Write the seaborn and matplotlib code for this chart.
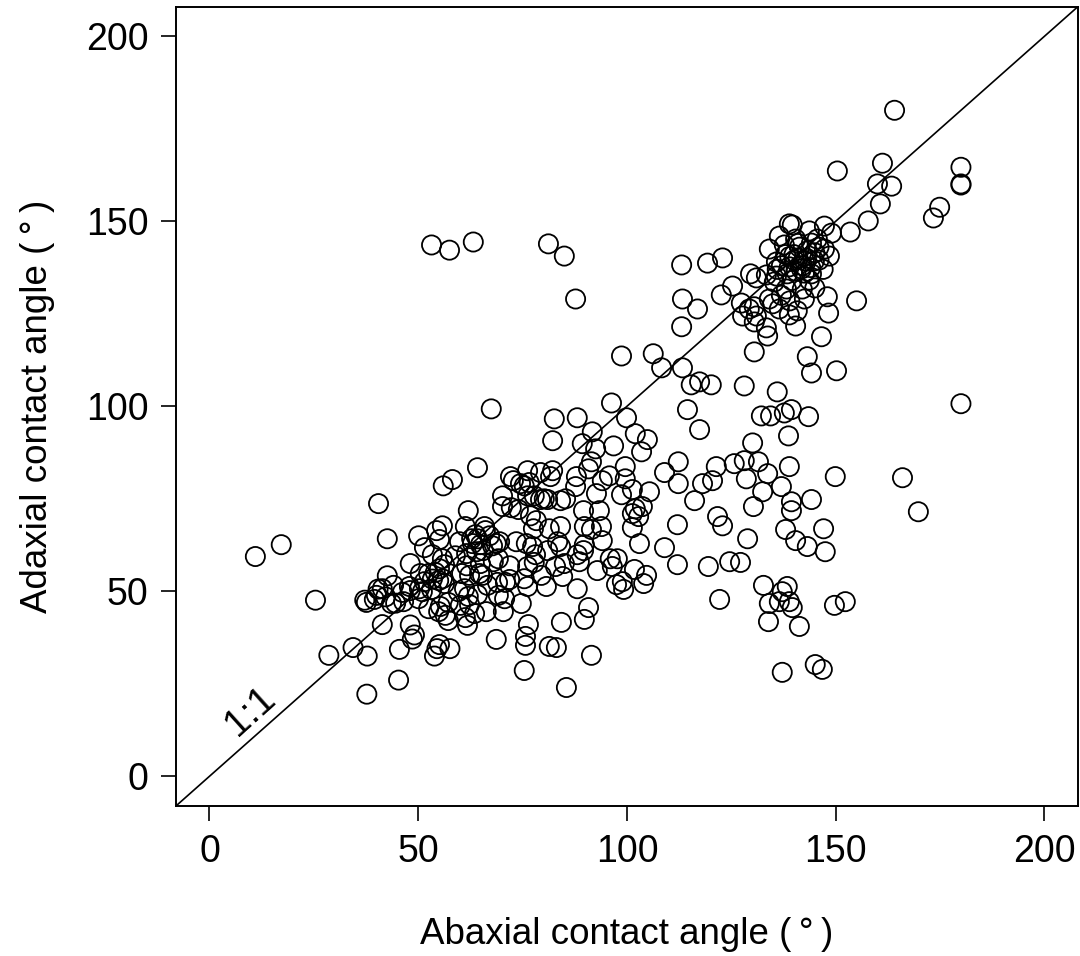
import numpy as np
import pandas as pd
import seaborn as sns
import matplotlib.pyplot as plt

# contact angles (degrees)
abaxial_left = [11.0, 17.2, 25.4, 28.6, 34.4, 37.8, 37.7, 41.4, 45.3, 45.5, 48.1, 49.1, 48.6, 53.9, 54.5, 57.6, 55.1,
                37.2, 37.6, 40.0, 40.4, 42.2, 42.6, 44.1, 44.6, 43.6, 46.2, 46.5, 47.9, 48.1, 50.1, 51.0, 50.3, 51.5,
                50.5, 48.1, 53.4, 53.2, 54.1, 55.1, 54.9, 55.8, 56.3, 56.3, 55.8, 52.5, 52.5, 54.9, 55.3, 56.5, 57.2,
                57.2, 60.1, 61.8, 63.5, 61.3, 62.3, 59.6, 61.1, 62.0, 64.2, 60.4, 62.3, 64.7, 65.4, 64.9, 66.6, 66.3,
                68.7, 70.4, 69.2, 70.9, 69.0, 71.9, 69.2, 68.0, 68.7, 67.8, 69.5,
                40.5, 42.6, 50.1, 51.5, 53.4, 55.1, 55.8, 54.4, 58.9, 59.9, 61.6, 61.6, 64.0, 64.2, 62.8, 63.7, 63.0,
                64.9, 65.6, 65.9, 66.1, 67.1, 62.0, 61.3, 56.0, 58.2, 64.2, 67.5, 41.4, 39.5]
adaxial_left = [59.4, 62.6, 47.6, 32.7, 34.8, 32.5, 22.2, 41.0, 26.0, 34.3, 40.9, 38.2, 37.1, 32.5, 34.5, 34.5, 35.6,
                47.6, 47.0, 48.9, 50.6, 48.5, 54.2, 51.6, 46.8, 46.7, 49.7, 47.2, 51.3, 50.2, 48.0, 49.9, 50.7, 52.6,
                54.8, 57.5, 53.3, 50.5, 55.1, 56.1, 52.9, 53.4, 52.1, 57.2, 58.8, 54.8, 45.3, 44.5, 45.9, 43.5, 42.1,
                47.0, 46.2, 40.8, 44.0, 42.9, 46.4, 49.9, 50.7, 48.6, 49.1, 54.8, 54.3, 54.8, 54.3, 57.5, 51.6, 44.5,
                37.0, 44.5, 48.9, 52.4, 52.4, 56.9, 58.8, 58.0, 62.9, 62.3, 63.4,
                73.7, 64.2, 65.0, 61.8, 59.9, 64.0, 67.7, 66.4, 59.6, 63.4, 60.2, 56.9, 60.7, 64.2, 64.2, 65.3, 62.9,
                62.6, 61.0, 67.5, 66.4, 65.0, 71.8, 67.5, 78.5, 80.2, 83.4, 99.3, 50.7, 47.8]

abaxial_mid = [74.7, 76.2, 75.4, 76.4, 75.7, 75.7, 75.4, 80.7, 79.5, 84.6, 84.3, 81.4, 83.1, 85.5, 89.8, 90.8, 91.5,
               92.9, 96.5, 97.5, 99.2, 98.9, 101.8, 104.0, 104.7, 77.8, 85.0, 88.6, 71.9, 70.7, 88.1, 76.2, 82.9,
               73.5, 75.9, 77.4, 78.1, 81.0, 84.1, 89.8, 89.6, 88.1, 97.7, 96.0,
               84.1, 83.4, 78.3, 77.6, 89.8, 91.5, 94.1, 93.9, 89.6, 93.4, 74.0, 72.3, 70.2, 70.2, 76.9, 81.4,
               76.2, 77.8, 79.3, 80.2, 81.0, 85.3, 84.1, 87.7, 87.9, 76.2, 82.2, 81.7, 72.1, 72.8, 74.5, 76.6, 75.4, 79.3,
               91.5, 96.8, 91.7, 89.3, 92.5, 88.1, 82.6, 82.2, 96.3, 99.9, 98.7,
               102.0, 104.9, 103.5, 99.6, 99.6, 101.3, 98.7, 95.8, 94.1, 92.7, 90.8,
               102.0, 103.7, 101.3, 102.8, 101.3, 103.0, 105.4]
adaxial_mid = [46.7, 51.3, 53.4, 41.0, 37.8, 35.4, 28.6, 51.3, 54.3, 54.0, 41.6, 35.1, 34.8, 24.0, 42.4, 45.6, 32.7,
               55.6, 56.7, 51.8, 50.5, 52.6, 55.9, 52.1, 54.3, 57.8, 57.5, 58.0, 53.2, 48.0, 50.7, 56.7, 56.7,
               63.4, 62.9, 62.1, 59.9, 61.0, 62.1, 62.6, 61.0, 59.9, 58.8, 58.8,
               67.5, 63.4, 69.1, 66.9, 67.5, 66.7, 63.7, 67.5, 71.8, 71.8, 72.1, 72.6, 75.8, 72.9, 70.4, 66.9,
               75.8, 75.8, 74.8, 75.0, 74.8, 75.0, 74.5, 78.3, 81.0, 82.6, 82.6, 81.0, 81.0, 79.9, 79.1, 79.4, 78.5, 82.1,
               85.0, 89.3, 93.1, 89.9, 88.5, 96.9, 96.6, 90.7, 100.9, 96.9, 113.6,
               92.6, 91.0, 87.7, 83.7, 80.4, 77.5, 76.1, 81.2, 79.9, 76.4, 83.1,
               72.3, 72.9, 71.0, 70.2, 67.2, 62.9, 76.9]

abaxial_right = [109.0, 112.3, 112.3, 116.2, 118.1, 120.5, 121.4, 125.7, 128.1, 130.1, 131.5, 133.7, 128.6, 132.5,
                 130.3, 121.7, 122.9, 128.9, 112.1, 109.0, 112.1, 119.5, 124.6, 127.2, 122.2, 132.7, 134.1, 133.9,
                 117.4, 114.5, 115.4, 117.4, 120.2, 108.3, 113.3, 106.3, 128.1, 136.0, 132.2, 134.4,
                 137.7, 139.4, 143.5, 138.7, 138.9, 149.9, 166.0, 169.8, 180.0, 137.0, 139.4, 139.4, 144.2, 138.0,
                 140.4, 143.2, 147.1, 147.5, 138.4, 137.2, 138.9, 139.6, 136.5, 141.3, 149.7, 152.3, 137.2, 145.1,
                 146.8, 143.2, 144.2, 150.2, 146.6]
adaxial_right = [82.1, 85.0, 79.1, 74.5, 79.1, 79.9, 83.7, 84.5, 85.3, 90.1, 85.0, 81.8, 80.4, 76.9,
                 72.9, 70.2, 67.7, 64.2, 68.0, 61.8, 57.2, 56.7, 58.0, 57.8, 47.8, 51.6, 46.7, 41.8,
                 93.7, 99.1, 105.8, 106.6, 105.8, 110.4, 110.4, 114.2, 105.5, 103.9, 97.4, 97.4,
                 98.2, 99.1, 97.2, 92.0, 83.7, 81.0, 80.7, 71.5, 100.7, 78.3, 74.2, 71.8, 74.8, 66.7,
                 63.7, 62.1, 66.9, 60.7, 51.3, 49.9, 47.2, 45.6, 47.2, 40.5, 46.2, 47.2, 28.1, 30.2,
                 28.9, 113.4, 109.0, 109.6, 118.8]

abaxial_upper = [122.9, 119.3, 113.1, 113.3, 113.1, 116.9, 122.6, 53.2, 57.5, 63.2, 81.2, 85.0, 87.7,
                 164.1, 161.2, 180.0, 150.4, 160.0, 163.4, 180.0, 180.0, 160.7, 157.8, 153.5, 174.9, 173.4, 155.0,
                 138.9, 139.6, 147.3, 149.0, 143.7, 136.5, 140.4, 145.6, 144.2, 134.1, 137.7, 141.3, 143.2, 147.3,
                 148.5, 135.8, 140.1, 142.5, 144.9, 138.9, 141.8, 144.2, 138.4, 133.4, 129.6, 131.0, 135.3, 138.2,
                 142.0, 142.5, 134.1, 134.9, 136.5, 138.9, 140.8, 127.4, 130.5, 127.7, 131.0, 133.4, 140.4, 148.3,
                 148.0, 135.8, 143.7, 125.3, 129.3, 130.5, 133.7, 130.5,
                 140.0, 141.0, 142.0, 139.0, 143.0, 145.0, 146.0, 140.5, 139.5, 142.5, 137.0, 144.0, 141.0, 138.0,
                 146.0, 136.0, 147.0, 139.0, 137.0, 145.0]
adaxial_upper = [140.1, 138.7, 138.2, 129.0, 121.5, 126.3, 130.1, 143.6, 142.2, 144.4, 143.9, 140.6, 129.0,
                 180.0, 165.7, 164.6, 163.6, 160.1, 159.5, 160.1, 159.8, 154.7, 150.1, 147.1, 153.8, 150.9, 128.5,
                 149.3, 149.0, 148.7, 146.8, 147.4, 146.0, 145.2, 145.2, 144.1, 142.5, 143.6, 143.0, 142.0, 142.5,
                 140.6, 139.0, 139.5, 139.3, 139.3, 137.7, 137.1, 135.8, 135.8, 135.5, 135.8, 134.7, 133.6, 131.7,
                 131.7, 129.0, 129.0, 127.7, 126.3, 124.7, 125.8, 127.9, 126.9, 124.4, 124.4, 121.2, 121.7, 125.2,
                 129.6, 135.2, 134.1, 132.5, 126.3, 122.8, 119.0, 114.7,
                 141.0, 140.0, 138.0, 140.5, 140.0, 141.5, 143.0, 136.5, 134.0, 136.0, 138.0, 137.5, 144.0, 141.0,
                 139.5, 137.0, 137.0, 128.5, 130.0, 132.0]

df = pd.DataFrame({
    "abaxial": abaxial_left + abaxial_mid + abaxial_right + abaxial_upper,
    "adaxial": adaxial_left + adaxial_mid + adaxial_right + adaxial_upper,
})

sns.set_theme(style="ticks")
plt.rcParams['font.family'] = ['Liberation Sans', 'DejaVu Sans']

fig = plt.figure(figsize=(10.8, 9.56), dpi=100)
ax = fig.add_axes([0.163, 0.157, 0.835, 0.836])

ax.plot([-8, 208], [-8, 208], color="black", lw=1.2, zorder=1)
sns.scatterplot(data=df, x="abaxial", y="adaxial", ax=ax, marker="o", s=190,
                facecolors="none", edgecolors="black", linewidth=1.3, zorder=2)

ax.text(9.8, 17.5, "1:1", rotation=42, ha="center", va="center", fontsize=28, color="black")

ax.set_xlim(-8, 208)
ax.set_ylim(-8, 208)
ticks = [0, 50, 100, 150, 200]
ax.set_xticks(ticks)
ax.set_yticks(ticks)
ax.tick_params(axis="both", direction="out", length=11, width=1.2, labelsize=27,
               colors="black", pad=9)
for sp in ax.spines.values():
    sp.set_visible(True)
    sp.set_color("black")
    sp.set_linewidth(1.4)

ax.set_xlabel("Abaxial contact angle (\u2009°\u2009)", fontsize=26.5, labelpad=34, color="black")
ax.set_ylabel("Adaxial contact angle (\u2009°\u2009)", fontsize=26.5, labelpad=22, color="black")

fig.savefig("out.png", dpi=100, facecolor="white")
